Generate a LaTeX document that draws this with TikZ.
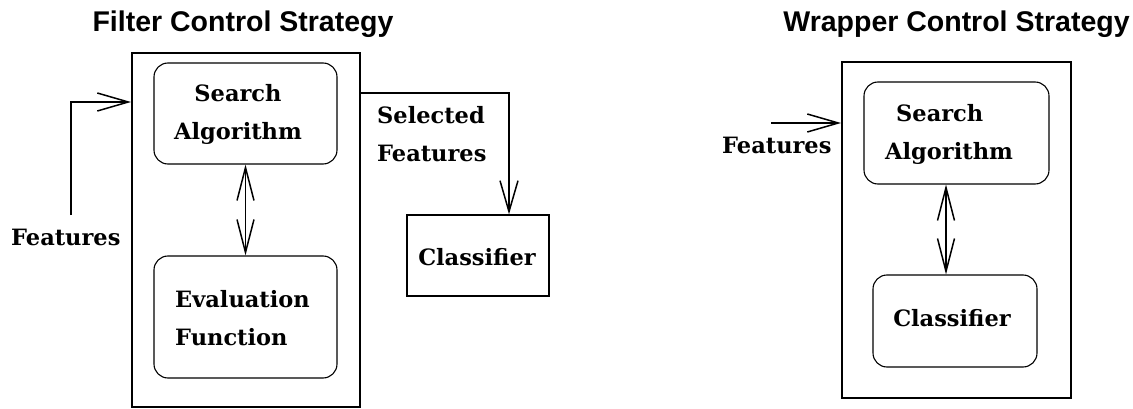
\documentclass[tikz,border=0pt]{standalone}
\usepackage{fontspec}
\setmainfont{DejaVu Serif}
\setsansfont{Liberation Sans}
\usetikzlibrary{arrows.meta}
\tikzset{
  title/.style={font=\sffamily\bfseries\fontsize{28.5}{30}\selectfont, anchor=base, inner sep=0pt},
  lbl/.style={font=\bfseries\fontsize{22.5}{38}\selectfont, inner sep=0pt},
  outerbox/.style={draw, line width=2pt, inner sep=0pt},
  roundbox/.style={draw, line width=1.1pt, rounded corners=14pt, inner sep=0pt},
  plainbox/.style={draw, line width=1.3pt, inner sep=0pt},
  conn/.style={line width=1.8pt, -{Straight Barb[length=31pt,width=18pt,line width=1.5pt]}},
  dconn/.style={line width=1.8pt, {Straight Barb[length=33pt,width=17pt,line width=1.5pt]}-{Straight Barb[length=33pt,width=17pt,line width=1.5pt]}},
}
\begin{document}
\begin{tikzpicture}[x=1pt,y=-1pt]
\useasboundingbox (0,0) rectangle (1133,409);
% ---------- Filter ----------
\node[title] (t1) at (243,31.5) {Filter Control Strategy};
\node[outerbox, minimum width=228pt, minimum height=354pt] (fouter) at (246,230) {};
\node[roundbox, minimum width=183pt, minimum height=101pt] (fsearch) at (245.5,113.5) {};
\node[roundbox, minimum width=183pt, minimum height=122pt] (feval) at (245.5,317) {};
\node[plainbox, minimum width=142pt, minimum height=81pt] (fclass) at (478,255.5) {};
\node[lbl, align=center, anchor=base] (fsearchtxt) at (238,140) {Search\\Algorithm};
\node[lbl, align=left, anchor=base west] (fevaltxt) at (175,345) {Evaluation\\Function};
\node[lbl, anchor=base] (fclasstxt) at (477,265) {Classifier};
\node[lbl, anchor=base west] (ffeat) at (11,245) {Features};
\node[lbl, align=left, anchor=base west] (fsel) at (377,162) {Selected\\Features};
\coordinate (fin) at (71,215);
\draw[conn] (fin) |- (fouter.west |- 0,102);
\draw[conn] (fouter.east |- 0,93) -| (fclass.north -| 509,0);
\draw[dconn] (fsearch.south) -- (feval.north);
% ---------- Wrapper ----------
\node[title] (t2) at (956.5,31.5) {Wrapper Control Strategy};
\node[outerbox, minimum width=229pt, minimum height=336pt] (wouter) at (956.5,230) {};
\node[roundbox, minimum width=185pt, minimum height=102pt] (wsearch) at (956.5,133) {};
\node[roundbox, minimum width=164pt, minimum height=92pt] (wclass) at (955,321) {};
\node[lbl, align=left, anchor=base west] (wsearchtxt) at (885,160) {\hspace*{11pt}Search\\Algorithm};
\node[lbl, anchor=base] (wclasstxt) at (952,326) {Classifier};
\node[lbl, anchor=base west] (wfeat) at (722,154) {Features};
\coordinate (win) at (771,123);
\draw[conn] (win) -- (wouter.west |- win);
\draw[dconn] (wsearch.south -| 946,0) -- (wclass.north -| 946,0);
\end{tikzpicture}
\end{document}
